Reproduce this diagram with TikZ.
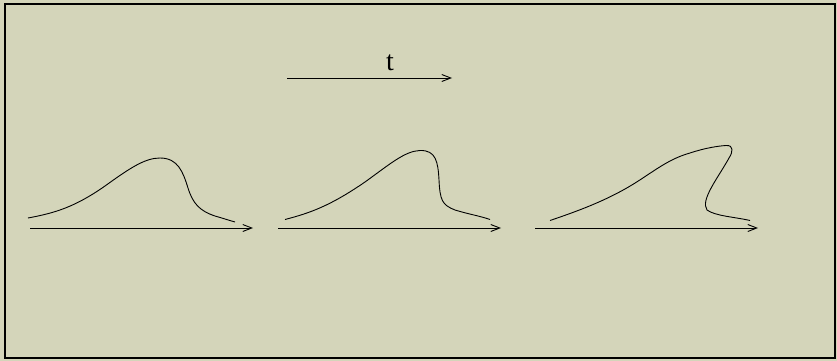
\documentclass[tikz,border=0pt]{standalone}
\usepackage{fontspec}
\setmainfont{Liberation Serif}
\usetikzlibrary{arrows.meta}
\definecolor{paper}{RGB}{212,213,186}

\tikzset{
  axis/.style={line width=0.9pt,-{Straight Barb[length=9pt,width=7pt]}},
  wave/.style={line width=0.9pt}
}

\begin{document}
\begin{tikzpicture}[x=1pt,y=-1pt,font=\fontsize{28}{30}\selectfont]
\useasboundingbox (0,0) rectangle (837,361);
\fill[paper] (0,0) rectangle (837,361);
\draw[line width=1.2pt] (5,4) rectangle (835,358);
% time arrow
\coordinate (t0) at (287,78); \coordinate (t1) at (452,78);
\draw[axis] (t0) -- (t1);
\node (tlab) at (390,63) {t};
% axes
\coordinate (a0) at (30,228);  \coordinate (a1) at (253,228);
\coordinate (b0) at (278,228); \coordinate (b1) at (501,228);
\coordinate (c0) at (535,228); \coordinate (c1) at (758,228);
\draw[axis] (a0) -- (a1);
\draw[axis] (b0) -- (b1);
\draw[axis] (c0) -- (c1);
% first profile
\draw[wave] (28,218) .. controls (55,213) and (75,207) .. (105,186)
  .. controls (130,168) and (145,158) .. (160,158)
  .. controls (178,158) and (183,172) .. (188,188)
  .. controls (193,204) and (200,211) .. (215,216)
  .. controls (222,218) and (228,220) .. (235,222);
% steeper profile
\draw[wave] (285,219.5) .. controls (310,213) and (330,206) .. (365,182)
  .. controls (390,164) and (405,151) .. (420,150.5)
  .. controls (436,150) and (438,162) .. (439,180)
  .. controls (440,200) and (442,205) .. (455,210)
  .. controls (468,214) and (480,216) .. (490,219.5);
% overturned profile
\draw[wave] (550,220.5) .. controls (575,212) and (600,203) .. (625,189)
  .. controls (650,175) and (665,160) .. (690,153)
  .. controls (705,148) and (718,146) .. (726,145.5)
  .. controls (734,145) and (733,152) .. (729,158)
  .. controls (718,178) and (700,200) .. (707,210)
  .. controls (715,216) and (735,217) .. (750,220.5);
\end{tikzpicture}
\end{document}
